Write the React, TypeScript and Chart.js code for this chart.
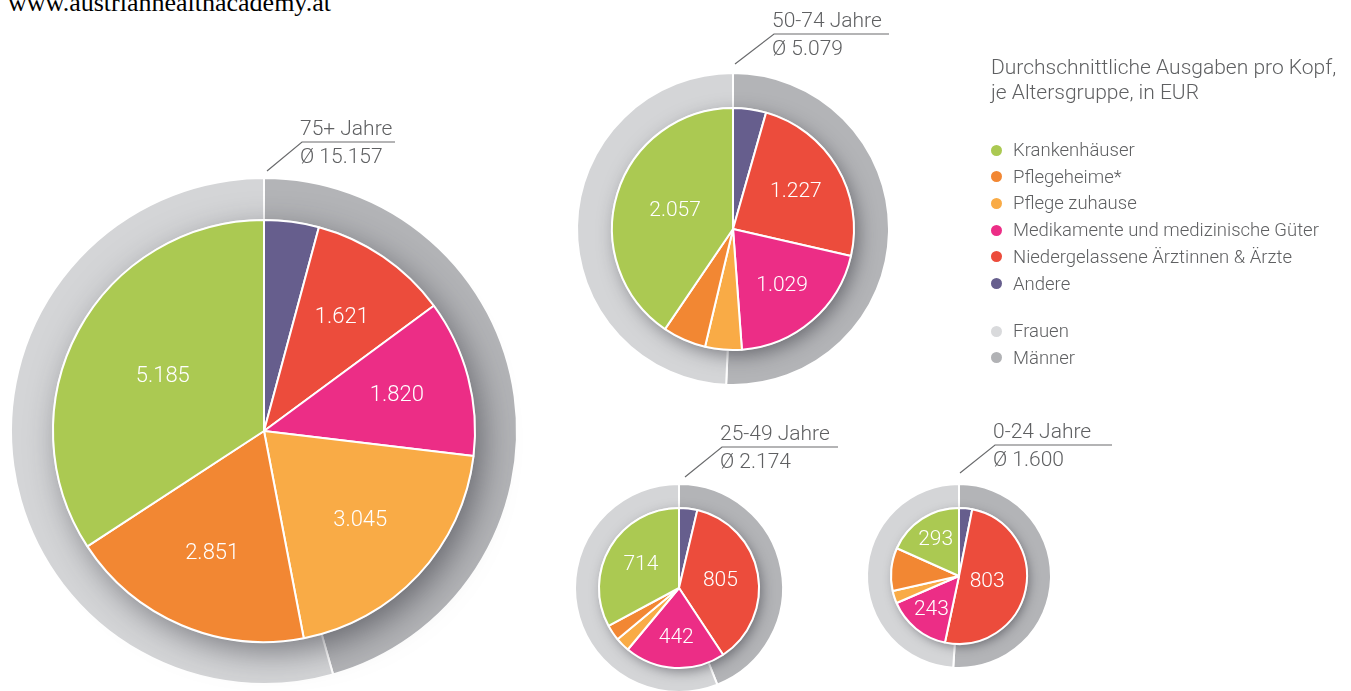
import React, { useEffect, useRef } from "react";
import { Chart, registerables } from "chart.js";

Chart.register(...registerables);

// ---------- data ----------
const categories = [
  "Krankenhäuser",
  "Pflegeheime*",
  "Pflege zuhause",
  "Medikamente und medizinische Güter",
  "Niedergelassene Ärztinnen & Ärzte",
  "Andere",
];
const categoryColors = ["#abc952", "#f28733", "#f9ab46", "#ec2d86", "#ec4c3c", "#665e8d"];

const genders = ["Männer", "Frauen"];
const genderColors = ["#b3b4b7", "#d4d5d7"];
const genderLegendColors = ["#d9dadc", "#b1b2b5"]; // Frauen, Männer (legend order)

const ageGroups = ["75+ Jahre", "50-74 Jahre", "25-49 Jahre", "0-24 Jahre"];
const averages = ["15.157", "5.079", "2.174", "1.600"];

// spending per category (legend order), EUR per head
const spend75 = [5185, 2851, 3045, 1820, 1621, 635];
const spend50 = [2057, 294, 248, 1029, 1227, 224];
const spend25 = [714, 70, 63, 442, 805, 80];
const spend0 = [293, 164, 47, 243, 803, 50];

// share of men / women (percent)
const gender75 = [45.6, 54.4];
const gender50 = [50.7, 49.3];
const gender25 = [44, 56];
const gender0 = [51, 49];

const spendSets = [spend75, spend50, spend25, spend0];
const genderSets = [gender75, gender50, gender25, gender0];

// ---------- layout ----------
const layout = [
  { cx: 264, cy: 431, outer: 253, inner: 211, lineY: 142, textX: 300, lineEnd: 395, diagX: 267, diagY: 171, labelSize: 22 },
  { cx: 733, cy: 229, outer: 156, inner: 121, lineY: 34, textX: 772, lineEnd: 889, diagX: 735, diagY: 64, labelSize: 21 },
  { cx: 679, cy: 588, outer: 104, inner: 80, lineY: 447, textX: 720, lineEnd: 838, diagX: 685, diagY: 477, labelSize: 21 },
  { cx: 959, cy: 576, outer: 92, inner: 68, lineY: 445, textX: 993, lineEnd: 1112, diagX: 960, diagY: 473, labelSize: 21 },
];

const TEXT = "#5f6062";
const FONT = "Roboto, 'Noto Sans', sans-serif";

function fmt(v: number): string {
  return String(v).replace(/\B(?=(\d{3})+(?!\d))/g, ".");
}

const shadowPlugin = {
  id: "pieShadow",
  beforeDatasetDraw(chart: any, args: any) {
    if (args.index !== 1) return;
    const meta = chart.getDatasetMeta(1);
    const arc = meta.data[0];
    if (!arc) return;
    const { x, y, outerRadius } = arc.getProps(["x", "y", "outerRadius"], true);
    const s = outerRadius / 211;
    const ctx = chart.ctx;
    ctx.save();
    ctx.shadowColor = "rgba(40,40,50,0.55)";
    ctx.shadowBlur = 34 * s;
    ctx.shadowOffsetX = 8 * s;
    ctx.shadowOffsetY = 10 * s;
    ctx.beginPath();
    ctx.arc(x, y, outerRadius - 1, 0, Math.PI * 2);
    ctx.fillStyle = "#ffffff";
    ctx.fill();
    ctx.restore();
  },
};

const labelPlugin = {
  id: "sliceLabels",
  afterDatasetsDraw(chart: any, _args: any, opts: any) {
    const meta = chart.getDatasetMeta(1);
    const data = chart.data.datasets[1].data as number[];
    const ctx = chart.ctx;
    ctx.save();
    ctx.fillStyle = "#ffffff";
    ctx.font = `300 ${opts.size || 21}px ${FONT}`;
    ctx.textAlign = "center";
    ctx.textBaseline = "middle";
    meta.data.forEach((arc: any, i: number) => {
      const { x, y, startAngle, endAngle, outerRadius } = arc.getProps(
        ["x", "y", "startAngle", "endAngle", "outerRadius"],
        true
      );
      const th = endAngle - startAngle;
      if (outerRadius * th < 60) return;
      const mid = (startAngle + endAngle) / 2;
      const r = (4 * outerRadius * Math.sin(th / 2)) / (3 * th);
      ctx.fillText(fmt(data[i]), x + r * Math.cos(mid), y + r * Math.sin(mid));
    });
    ctx.restore();
  },
};

function PieGroup({ idx }: { idx: number }) {
  const ref = useRef<HTMLCanvasElement | null>(null);
  const L = layout[idx];
  const half = L.outer + 40;
  useEffect(() => {
    if (!ref.current) return;
    const values = spendSets[idx].slice().reverse();
    const colors = categoryColors.slice().reverse();
    const labels = categories.slice().reverse();
    const chart = new Chart(ref.current, {
      type: "pie",
      data: {
        labels,
        datasets: [
          {
            label: "Geschlecht",
            data: genderSets[idx],
            backgroundColor: genderColors,
            borderColor: "#ffffff",
            borderWidth: 2,
            weight: L.outer - L.inner,
            order: 2,
          } as any,
          {
            label: ageGroups[idx],
            data: values,
            backgroundColor: colors,
            borderColor: "#ffffff",
            borderWidth: 2,
            weight: L.inner,
            order: 1,
          } as any,
        ],
      },
      options: {
        responsive: false,
        animation: false,
        events: [],
        radius: L.outer,
        layout: { padding: 0 },
        plugins: {
          legend: { display: false },
          tooltip: { enabled: false },
          sliceLabels: { size: L.labelSize },
        },
      } as any,
      plugins: [shadowPlugin, labelPlugin],
    });
    return () => chart.destroy();
  }, [idx]);
  return (
    <canvas
      ref={ref}
      width={half * 2}
      height={half * 2}
      style={{ position: "absolute", left: L.cx - half, top: L.cy - half, width: half * 2, height: half * 2 }}
    />
  );
}

export default function App() {
  const legendItems = categories.map((c, i) => ({ label: c, color: categoryColors[i] }));
  const genderItems = [
    { label: genders[1], color: genderLegendColors[0] },
    { label: genders[0], color: genderLegendColors[1] },
  ];
  const itemStyle = (top: number): React.CSSProperties => ({
    position: "absolute",
    left: 990,
    top,
    height: 26,
    lineHeight: "26px",
    fontSize: 18.5,
    whiteSpace: "nowrap",
    display: "flex",
    alignItems: "center",
  });
  return (
    <div style={{ position: "absolute", left: 0, top: 0, width: 1351, height: 691, overflow: "hidden", fontFamily: FONT, fontWeight: 300, color: TEXT }}>
      <div style={{ position: "absolute", left: 8, top: -12, fontFamily: "serif", fontWeight: 400, fontSize: 26, color: "#000", whiteSpace: "nowrap" }}>
        www.austrianhealthacademy.at
      </div>
      {layout.map((_, i) => (
        <PieGroup key={i} idx={i} />
      ))}
      <svg width={1351} height={691} style={{ position: "absolute", left: 0, top: 0, pointerEvents: "none" }}>
        {layout.map((L, i) => (
          <polyline
            key={i}
            points={`${L.diagX},${L.diagY} ${L.textX + 2},${L.lineY} ${L.lineEnd},${L.lineY}`}
            fill="none"
            stroke="#6a6b6d"
            strokeWidth={1.2}
          />
        ))}
      </svg>
      {layout.map((L, i) => (
        <React.Fragment key={i}>
          <div style={{ position: "absolute", left: L.textX, top: L.lineY - 27, fontSize: 21, lineHeight: "27px", whiteSpace: "nowrap" }}>
            {ageGroups[i]}
          </div>
          <div style={{ position: "absolute", left: L.textX, top: L.lineY + 1, fontSize: 21, lineHeight: "27px", whiteSpace: "nowrap" }}>
            Ø {averages[i]}
          </div>
        </React.Fragment>
      ))}
      <div style={{ position: "absolute", left: 991, top: 55, fontSize: 21, lineHeight: "25px", whiteSpace: "nowrap" }}>
        Durchschnittliche Ausgaben pro Kopf,
        <br />
        je Altersgruppe, in EUR
      </div>
      {legendItems.map((it, i) => (
        <div key={it.label} style={itemStyle(137 + i * 26.7)}>
          <span style={{ display: "inline-block", width: 11, height: 11, borderRadius: "50%", background: it.color, marginLeft: 1, marginRight: 11 }} />
          {it.label}
        </div>
      ))}
      {genderItems.map((it, i) => (
        <div key={it.label} style={itemStyle(318 + i * 26.5)}>
          <span style={{ display: "inline-block", width: 11, height: 11, borderRadius: "50%", background: it.color, marginLeft: 1, marginRight: 11 }} />
          {it.label}
        </div>
      ))}
    </div>
  );
}
